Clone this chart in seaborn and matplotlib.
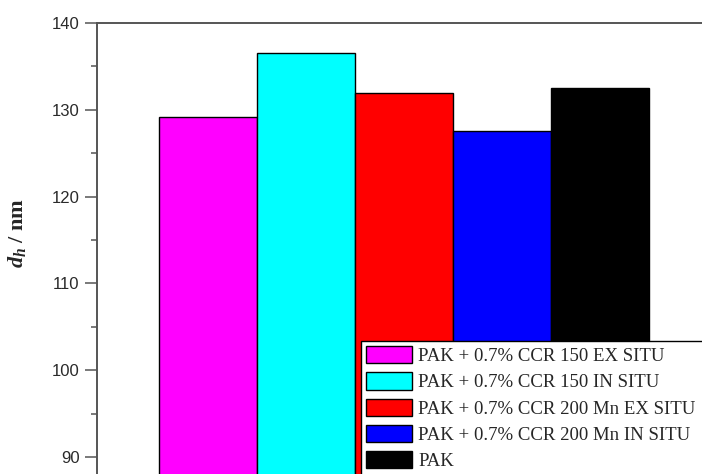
import matplotlib
matplotlib.use("Agg")
import matplotlib.pyplot as plt
import seaborn as sns
import pandas as pd
from matplotlib.ticker import MultipleLocator

# data
samples = [
    "PAK + 0.7% CCR 150 EX SITU",
    "PAK + 0.7% CCR 150 IN SITU",
    "PAK + 0.7% CCR 200 Mn EX SITU",
    "PAK + 0.7% CCR 200 Mn IN SITU",
    "PAK",
]
dh_values = [129.2, 136.6, 131.9, 127.6, 132.5]
bar_colors = ["#FF00FF", "#00FFFF", "#FF0000", "#0000FF", "#000000"]
y_ticks = [90, 100, 110, 120, 130, 140]

df = pd.DataFrame({"sample": samples, "dh": dh_values})

sns.set_style("ticks")
plt.rcParams["font.family"] = ["Liberation Sans", "DejaVu Sans"]
plt.rcParams["mathtext.fontset"] = "custom"
plt.rcParams["mathtext.rm"] = "Liberation Serif:bold"
plt.rcParams["mathtext.it"] = "Liberation Serif:italic:bold"
plt.rcParams["mathtext.bf"] = "Liberation Serif:bold"

fig = plt.figure(figsize=(7.02, 4.74), dpi=100)
# axes runs off the bottom and right of the canvas, like the cropped original
ax = fig.add_axes([0.1382, -0.1473, 0.9444, 1.0987])

sns.barplot(
    data=df, x="sample", y="dh", hue="sample",
    palette=bar_colors, saturation=1, width=1.0,
    edgecolor="black", linewidth=1.0, legend=False, ax=ax,
)

ax.set_ylim(80, 140)
ax.set_xlim(-1.133, 5.633)
ax.set_yticks(y_ticks)
ax.yaxis.set_minor_locator(MultipleLocator(5))
ax.set_xticks([])
ax.set_xlabel("")

for side in ["left", "top"]:
    ax.spines[side].set_visible(True)
    ax.spines[side].set_color("#555555")
    ax.spines[side].set_linewidth(1.4)
ax.spines["right"].set_visible(False)
ax.spines["bottom"].set_visible(False)

ax.tick_params(axis="y", which="major", length=9, width=1.1, color="#555555",
               labelsize=12, labelcolor="#2a2a2a", direction="out")
ax.tick_params(axis="y", which="minor", length=4.5, width=1.1, color="#555555",
               direction="out")

ax.set_ylabel(r"$\mathit{d}_{\mathit{h}}$ / nm", fontsize=16, fontweight="bold",
              family="Liberation Serif")
ax.yaxis.set_label_coords(-0.104, 0.597)

# legend in the lower right, frame runs past the canvas edge
leg_top = 1 - 341 / 474
handles = ax.patches[:len(samples)]
leg = ax.legend(
    handles=handles, labels=samples,
    loc="upper left", mode="expand",
    bbox_to_anchor=(361 / 702, leg_top - 0.5, 0.6, 0.5),
    bbox_transform=fig.transFigure,
    prop={"family": "Liberation Serif", "size": 13.5},
    frameon=True, fancybox=False, framealpha=1, edgecolor="black",
    handlelength=2.45, handleheight=1.05, handletextpad=0.32,
    labelspacing=0.38, borderpad=0.27, borderaxespad=0,
)
leg.get_frame().set_linewidth(1.0)

fig.savefig("out.png", dpi=100)
